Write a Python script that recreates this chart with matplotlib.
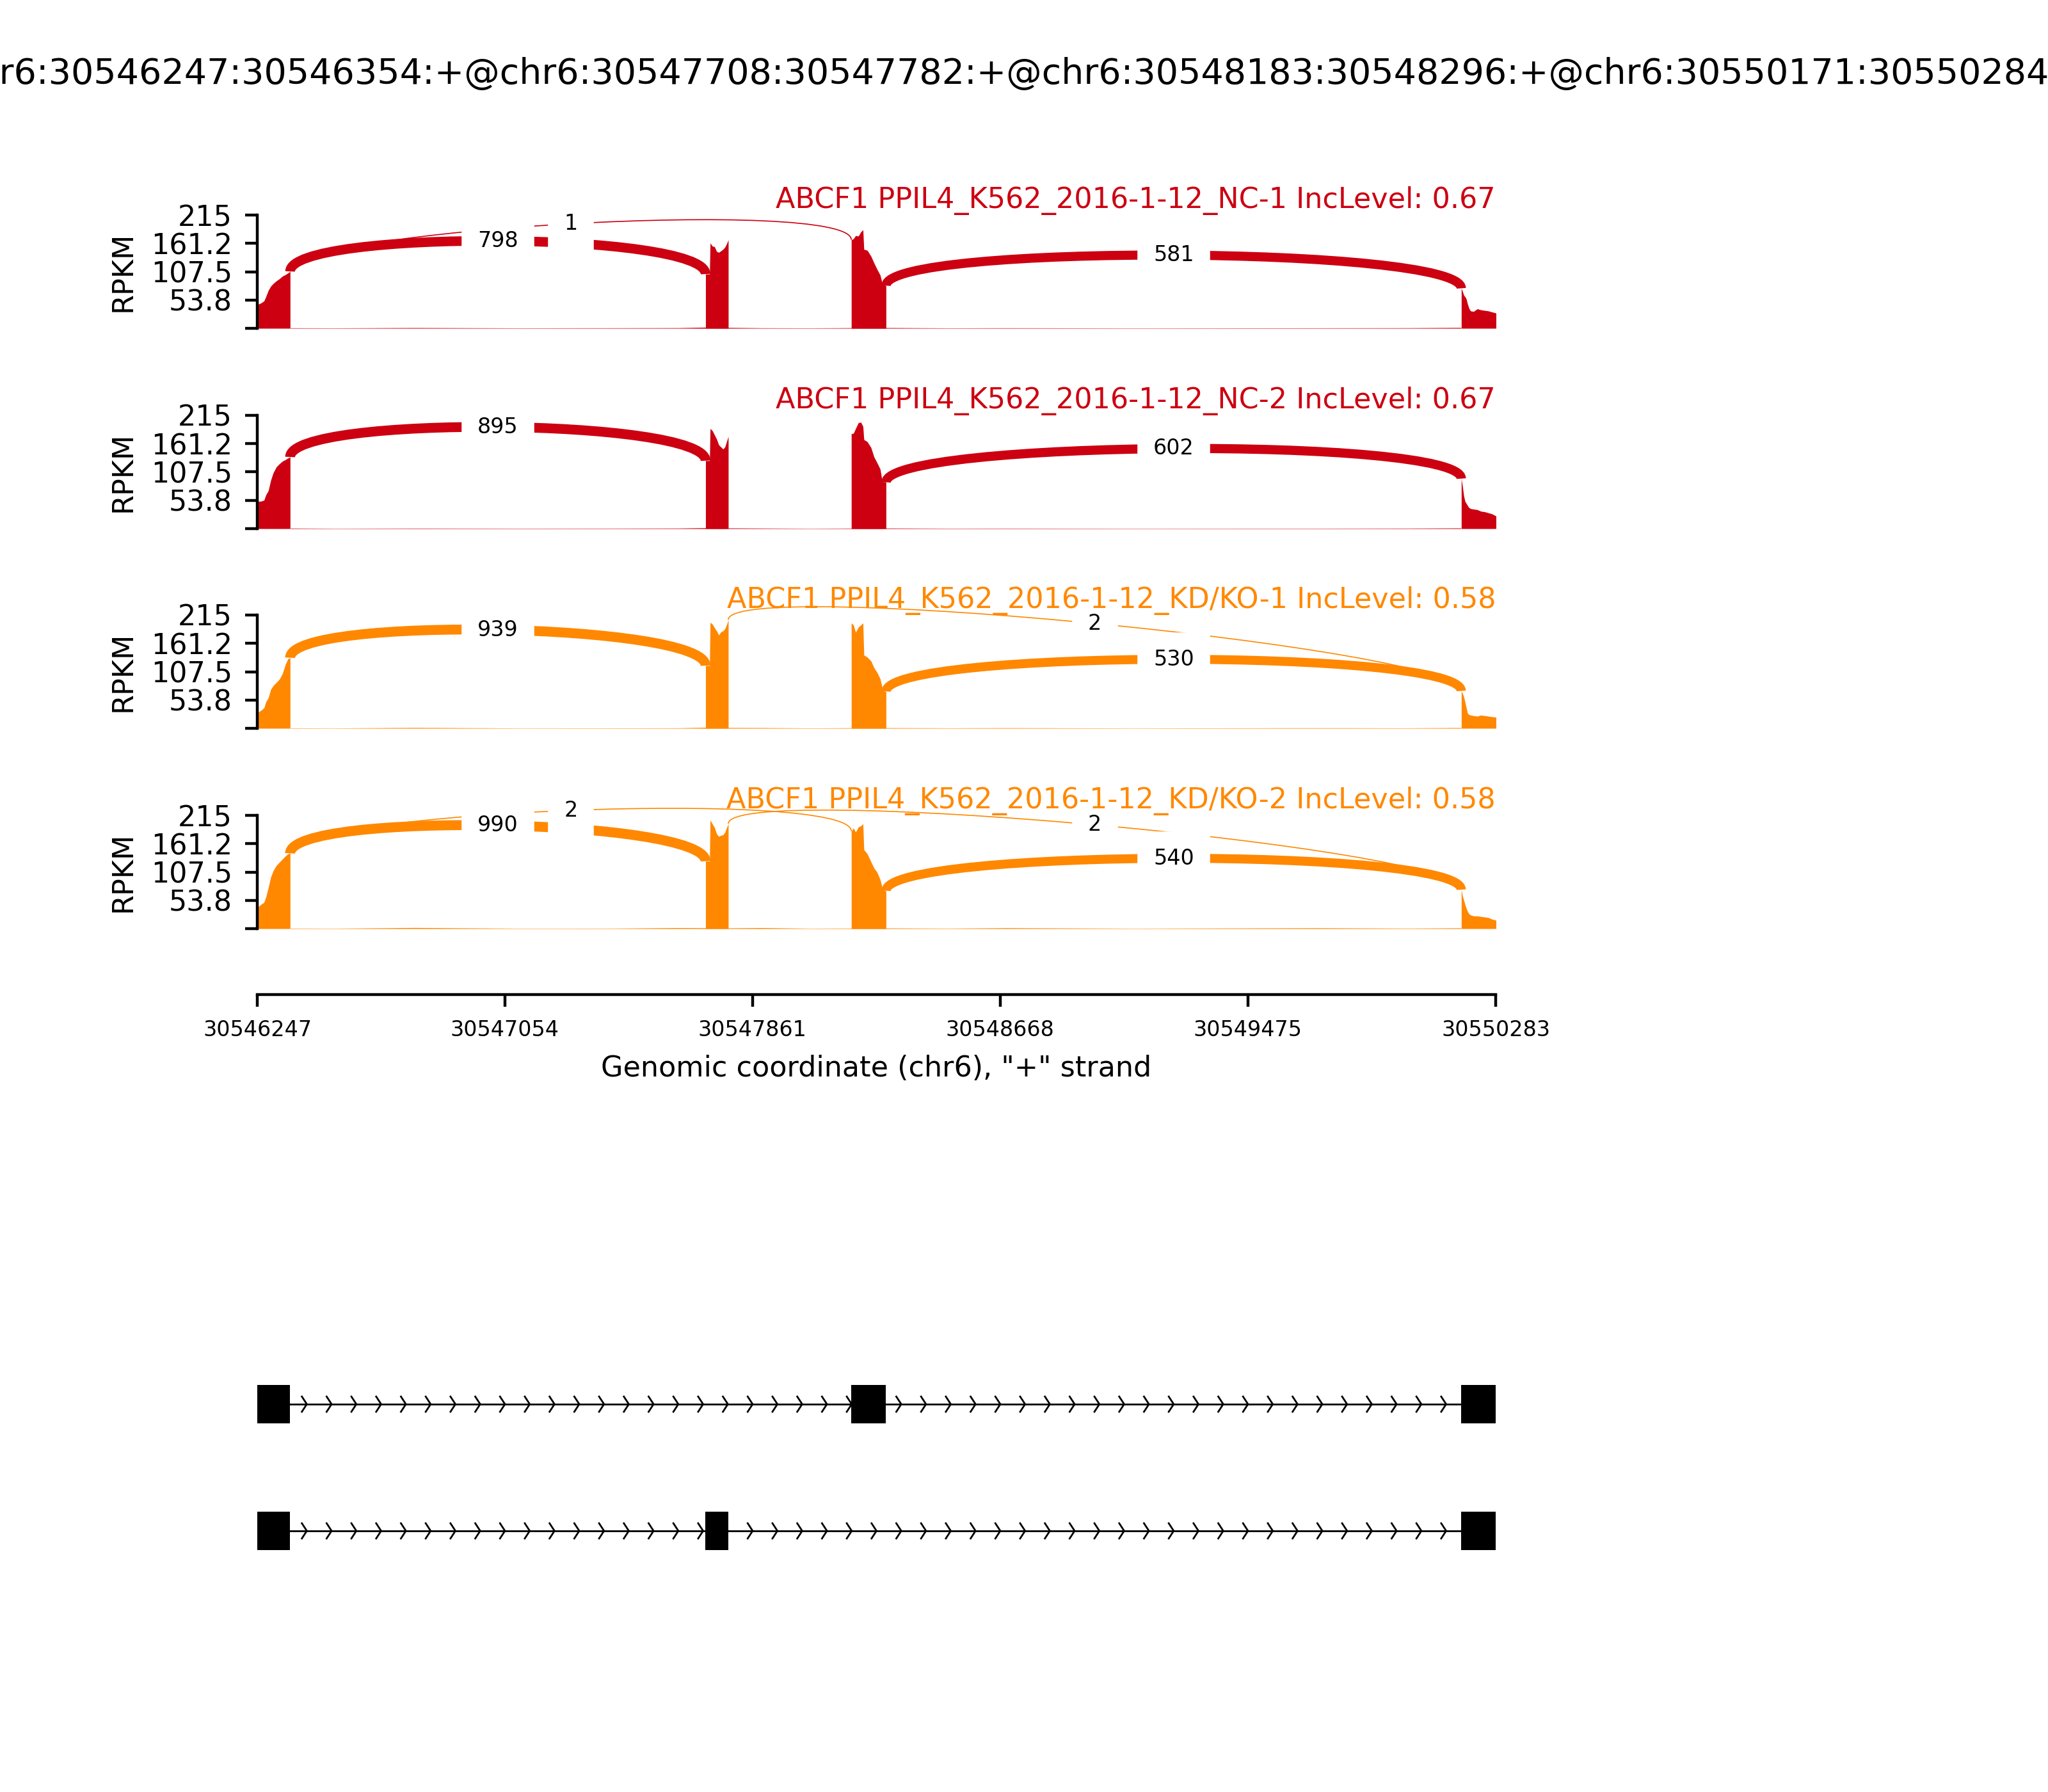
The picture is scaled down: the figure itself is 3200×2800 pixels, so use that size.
import numpy as np
import matplotlib
matplotlib.use("Agg")
import matplotlib.pyplot as plt
from matplotlib.path import Path
from matplotlib.patches import PathPatch

# ---- event / gene model ----
event_name = ("chr6:30546247:30546354:+@chr6:30547708:30547782:+@"
              "chr6:30548183:30548296:+@chr6:30550171:30550284:+")
chrom = "chr6"
strand = "+"
region_start = 30546247
region_end = 30550283

exon_starts = [30546247, 30547708, 30548183, 30550171]
exon_ends = [30546354, 30547782, 30548296, 30550284]
isoforms = [[0, 1, 3], [0, 2, 3]]  # bottom row first

x_tick_labels = ["30546247", "30547054", "30547861", "30548668", "30549475", "30550283"]
y_max = 215
y_tick_values = [0, 53.8, 107.5, 161.2, 215]
y_tick_labels = ["", "53.8", "107.5", "161.2", "215"]

samples = ["ABCF1 PPIL4_K562_2016-1-12_NC-1", "ABCF1 PPIL4_K562_2016-1-12_NC-2",
           "ABCF1 PPIL4_K562_2016-1-12_KD/KO-1", "ABCF1 PPIL4_K562_2016-1-12_KD/KO-2"]
inc_levels = [0.67, 0.67, 0.58, 0.58]
colors = ["#CC0011", "#CC0011", "#FF8800", "#FF8800"]

# junctions: donor exon -> acceptor exon, read counts per sample
junc_donor = [0, 0, 1, 2]
junc_acceptor = [1, 2, 3, 3]
counts_nc1 = [798, 1, 0, 581]
counts_nc2 = [895, 0, 0, 602]
counts_kd1 = [939, 0, 2, 530]
counts_kd2 = [990, 2, 2, 540]

# ---- coverage (RPKM) ----
# bp offsets into each exon where coverage was read
e1_off = [0, 4, 12, 22, 28, 36, 44, 52, 62, 72, 82, 92, 100, 107]
e2_off = [0, 13, 15, 22, 29, 36, 43, 50, 57, 63, 69, 74]
e3_off = [0, 7, 14, 23, 31, 38, 41, 52, 64, 74, 84, 94, 101, 108, 113]
e4_off = [0, 4, 8, 12, 16, 20, 25, 30, 40, 52, 64, 76, 88, 100, 113]
exon_offsets = [e1_off, e2_off, e3_off, e4_off]

cov_nc1 = [
    [43, 46, 48, 52, 60, 72, 80, 85, 90, 94, 99, 102, 105, 108],
    [103, 103, 162, 156, 155, 146, 144, 147, 150, 154, 161, 168],
    [168, 170, 176, 175, 183, 187, 150, 148, 137, 124, 112, 101, 85, 82, 81],
    [76, 70, 63, 60, 56, 47, 38, 33, 32, 37, 35, 34, 33, 31, 29],
]
cov_nc2 = [
    [40, 52, 52, 54, 64, 72, 92, 106, 117, 123, 128, 131, 134, 136],
    [129, 129, 190, 186, 178, 170, 159, 155, 151, 155, 166, 175],
    [180, 181, 190, 201, 202, 194, 169, 165, 154, 136, 125, 113, 89, 89, 88],
    [95, 80, 62, 52, 48, 44, 40, 38, 37, 36, 33, 32, 30, 28, 24],
]
cov_kd1 = [
    [29, 31, 34, 39, 50, 58, 74, 81, 87, 93, 104, 122, 132, 134],
    [119, 119, 201, 198, 191, 185, 177, 183, 185, 189, 197, 206],
    [200, 196, 182, 192, 196, 200, 139, 135, 128, 115, 106, 94, 76, 70, 70],
    [71, 66, 60, 50, 40, 29, 26, 25, 24, 23, 25, 24, 23, 22, 21],
]
cov_kd2 = [
    [22, 42, 46, 50, 60, 78, 98, 110, 120, 126, 132, 138, 142, 143],
    [128, 128, 206, 199, 192, 180, 175, 177, 178, 183, 192, 199],
    [185, 191, 183, 193, 195, 199, 150, 142, 127, 115, 107, 93, 77, 72, 72],
    [74, 62, 54, 46, 39, 33, 28, 26, 24, 24, 23, 22, 21, 18, 16],
]

# faint intronic coverage
intron_pos = [30546355, 30546500, 30546760, 30547100, 30547400, 30547617, 30547707,
              30547783, 30547893, 30548050, 30548182,
              30548297, 30548500, 30548688, 30549100, 30549697, 30550000, 30550170]
intron_nc1 = [0.8, 0.6, 1.2, 0.6, 0.8, 1.0, 2.0, 1.5, 0.8, 0.6, 1.0, 1.2, 0.6, 0.8, 0.5, 0.7, 0.9, 1.5]
intron_nc2 = [0.9, 0.5, 0.8, 0.6, 0.7, 0.9, 1.6, 1.2, 0.9, 0.5, 0.8, 1.0, 0.6, 0.7, 0.5, 0.6, 0.8, 1.2]
intron_kd1 = [0.7, 0.5, 1.5, 0.5, 0.6, 0.8, 1.8, 1.4, 1.2, 0.6, 0.9, 1.1, 0.7, 1.0, 0.5, 0.9, 0.7, 1.3]
intron_kd2 = [0.8, 0.6, 2.0, 0.6, 0.7, 1.8, 1.6, 1.3, 1.8, 0.6, 0.9, 1.2, 0.7, 1.6, 0.6, 1.5, 0.8, 1.4]

coverage = [cov_nc1, cov_nc2, cov_kd1, cov_kd2]
intron_cov = [intron_nc1, intron_nc2, intron_kd1, intron_kd2]
junc_counts = [counts_nc1, counts_nc2, counts_kd1, counts_kd2]

# ---- figure ----
W, H = 3200, 2800
fig = plt.figure(figsize=(8, 7), dpi=400)
fig.text(0.5, 1 - 116 / H, event_name, ha="center", va="center", fontsize=10)

ax_left = 402 / W
ax_width = (2337 - 402) / W
panel_top_px = [336, 649, 961, 1274]
panel_h_px = 177

arc_h = 0.375 * y_max  # height of bezier control points
for i in range(len(samples)):
    top = panel_top_px[i]
    ax = fig.add_axes([ax_left, 1 - (top + panel_h_px) / H, ax_width, panel_h_px / H])
    color = colors[i]

    ax.fill_between(intron_pos, intron_cov[i], 0, color=color, lw=0)
    for e in range(len(exon_starts)):
        xs = exon_starts[e] + np.array(exon_offsets[e])
        ax.fill_between(xs, coverage[i][e], 0, color=color, lw=0)

    for j in range(len(junc_donor)):
        n = junc_counts[i][j]
        if n == 0:
            continue
        d, a = junc_donor[j], junc_acceptor[j]
        ss1, ss2 = exon_ends[d], exon_starts[a]
        ld, rd = coverage[i][d][-1], coverage[i][a][0]
        pts = [(ss1, ld), (ss1, ld + arc_h), (ss2, rd + arc_h), (ss2, rd)]
        path = Path(pts, [Path.MOVETO, Path.CURVE4, Path.CURVE4, Path.CURVE4])
        lw = np.interp(np.log10(n + 1), [0.48, 3.0], [0.3, 2.8])
        ax.add_patch(PathPatch(path, ec=color, fc="none", lw=lw, clip_on=False))
        p = np.array(pts, dtype=float)
        mid = 0.125 * p[0] + 0.375 * p[1] + 0.375 * p[2] + 0.125 * p[3]
        ax.text(mid[0], mid[1], str(n), fontsize=6, ha="center", va="center",
                backgroundcolor="w", clip_on=False)

    ax.text(region_end, y_max, f"{samples[i]} IncLevel: {inc_levels[i]:.2f}",
            fontsize=8, color=color, ha="right", va="bottom")

    ax.set_xlim(region_start, region_end)
    ax.set_ylim(0, y_max)
    for s in ["top", "right", "bottom"]:
        ax.spines[s].set_visible(False)
    ax.spines["left"].set_bounds(0, y_max)
    ax.set_xticks([])
    ax.set_yticks(y_tick_values)
    ax.set_yticklabels(y_tick_labels, fontsize=8)
    ax.set_ylabel("RPKM", fontsize=8)
    ax.patch.set_alpha(0)

# genomic coordinate axis
axx = fig.add_axes([ax_left, 1 - 1554 / H, ax_width, 1 / H])
axx.patch.set_alpha(0)
for s in ["top", "right", "left"]:
    axx.spines[s].set_visible(False)
axx.set_yticks([])
axx.set_xlim(region_start, region_end)
axx.set_xticks([int(t) for t in x_tick_labels])
axx.set_xticklabels(x_tick_labels, fontsize=6)
axx.set_xlabel(f'Genomic coordinate ({chrom}), "{strand}" strand', fontsize=8)

# gene structure
axg = fig.add_axes([ax_left, 1 - 2491 / H, ax_width, (2491 - 1897) / H])
exon_w = 0.3
narrows = 50
span = region_end - region_start
spread = 0.2 * span / narrows
for row, iso in enumerate(isoforms):
    for e in iso:
        s, t = exon_starts[e], exon_ends[e]
        axg.fill([s, t, t, s], [row - exon_w / 2, row - exon_w / 2, row + exon_w / 2, row + exon_w / 2],
                 "k", lw=0.5, zorder=20)
    axg.axhline(row, color="k", lw=0.5)
    for k in range(narrows):
        loc = region_start + k * span / narrows
        axg.plot([loc - spread, loc, loc - spread], [row - exon_w / 5, row, row + exon_w / 5],
                 lw=0.5, color="k")
axg.set_xlim(region_start, region_end)
axg.set_ylim(-0.5, len(isoforms) + 0.5)
axg.axis("off")

fig.savefig("out.png", dpi=400)
